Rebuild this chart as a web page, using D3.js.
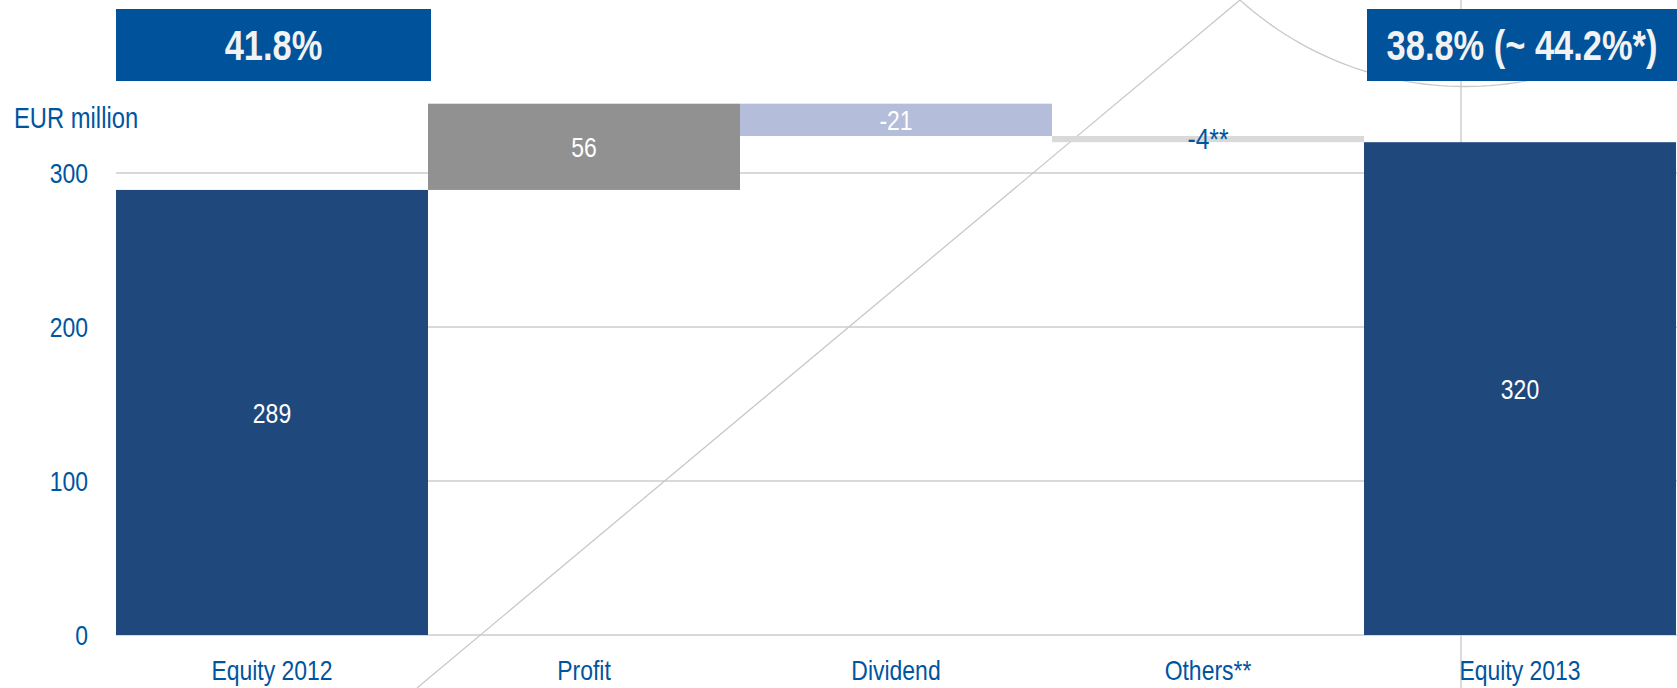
<!DOCTYPE html>
<html>
<head>
<meta charset="utf-8">
<script src="https://cdn.jsdelivr.net/npm/d3@7"></script>
<style>
  html, body { margin: 0; padding: 0; background: #fff; }
  svg { display: block; }
  text { font-family: "Liberation Sans", Arial, sans-serif; }
</style>
</head>
<body>
<script>
const categories = ["Equity 2012", "Profit", "Dividend", "Others**", "Equity 2013"];
const values = [289, 56, -21, -4, 320];
const kinds = ["total", "delta", "delta", "delta", "total"];
const valueLabels = ["289", "56", "-21", "-4**", "320"];
const yTicks = [0, 100, 200, 300];
const ratioLabels = ["41.8%", "38.8% (~ 44.2%*)"];
const ratioAt = ["Equity 2012", "Equity 2013"];

const barColors = ["#1f497d", "#919191", "#b4bedb", "#d9d9d9", "#1f497d"];
const blue = "#0055a0";
const narrow = 0.82; // no narrow font installed, squeeze the regular one

const width = 1677, height = 688;

const svg = d3.select("body").append("svg")
    .attr("width", width)
    .attr("height", height);

const xScale = d3.scaleBand().domain(categories).range([116, 1676]).padding(0);
const yScale = d3.scaleLinear().domain([0, 300]).range([635, 173]);

// place a text at x,y and squeeze it horizontally
function place(sel, fx, fy) {
    sel.attr("transform", (d, i) => `translate(${fx(d, i)},${fy(d, i)}) scale(${narrow},1)`);
}

// waterfall start / end
let running = 0;
const bars = categories.map((c, i) => {
    let from, to;
    if (kinds[i] === "total") {
        from = 0; to = values[i]; running = values[i];
    } else {
        from = running; to = running + values[i]; running = to;
    }
    return { cat: c, from, to, label: valueLabels[i], color: barColors[i], i };
});

// grid lines
svg.append("g").selectAll("line")
    .data(yTicks)
    .join("line")
    .attr("x1", 116)
    .attr("x2", width)
    .attr("y1", d => yScale(d))
    .attr("y2", d => yScale(d))
    .attr("stroke", "#d9d9d9")
    .attr("stroke-width", 2);

// decorative lines behind the bars
const deco = svg.append("g").attr("fill", "none").attr("stroke", "#c8c8c8").attr("stroke-width", 1.3);
deco.append("line").attr("x1", 417).attr("y1", 688).attr("x2", 1240).attr("y2", 0);
deco.append("line").attr("x1", 1461).attr("y1", 0).attr("x2", 1461).attr("y2", 688);
const cx = 1465, cy = -249.5, r = 336;
const a0 = Math.atan2(0 - cy, 1240 - cx), a1 = Math.atan2(0 - cy, 1690 - cx);
const arcPts = d3.range(0, 61).map(k => {
    const a = a0 + (a1 - a0) * k / 60;
    return [cx + r * Math.cos(a), cy + r * Math.sin(a)];
});
deco.append("path").attr("d", d3.line()(arcPts));

// bars
svg.append("g").selectAll("rect")
    .data(bars)
    .join("rect")
    .attr("x", d => xScale(d.cat))
    .attr("width", xScale.bandwidth())
    .attr("y", d => yScale(Math.max(d.from, d.to)))
    .attr("height", d => Math.abs(yScale(d.from) - yScale(d.to)))
    .attr("fill", d => d.color);

// value labels (the thin "others" bar gets its label in blue, a bit larger)
svg.append("g").selectAll("text")
    .data(bars)
    .join("text")
    .call(place, d => xScale(d.cat) + xScale.bandwidth() / 2, d => (yScale(d.from) + yScale(d.to)) / 2 - (d.i === 3 ? 1 : 0))
    .attr("dy", "0.36em")
    .attr("text-anchor", "middle")
    .attr("font-size", d => d.i === 3 ? 30 : 28)
    .attr("fill", d => d.i === 3 ? blue : "#fff")
    .text(d => d.label);

// ratio boxes on top
const boxX = (d, i) => xScale(ratioAt[i]) + (i === 0 ? 0 : 3);
const boxW = (d, i) => i === 0 ? xScale.bandwidth() + 3 : width - xScale(ratioAt[i]) - 3;
const boxes = svg.append("g").selectAll("g")
    .data(ratioLabels)
    .join("g");
boxes.append("rect")
    .attr("x", boxX)
    .attr("y", 9)
    .attr("width", boxW)
    .attr("height", 72)
    .attr("fill", "#00529b");
boxes.append("text")
    .call(place, (d, i) => boxX(d, i) + boxW(d, i) / 2, () => 45)
    .attr("dy", "0.36em")
    .attr("text-anchor", "middle")
    .attr("font-size", 42)
    .attr("font-weight", "bold")
    .attr("fill", "#f2f2f2")
    .text(d => d);

// y axis labels
svg.append("g").selectAll("text")
    .data(yTicks)
    .join("text")
    .call(place, () => 88, d => yScale(d))
    .attr("dy", "0.36em")
    .attr("text-anchor", "end")
    .attr("font-size", 28)
    .attr("fill", blue)
    .text(d => d);

svg.append("text")
    .call(place, () => 14, () => 128)
    .attr("font-size", 29)
    .attr("fill", blue)
    .text("EUR million");

// x axis labels
svg.append("g").selectAll("text")
    .data(categories)
    .join("text")
    .call(place, d => xScale(d) + xScale.bandwidth() / 2, () => 680)
    .attr("text-anchor", "middle")
    .attr("font-size", 28)
    .attr("fill", blue)
    .text(d => d);
</script>
</body>
</html>
